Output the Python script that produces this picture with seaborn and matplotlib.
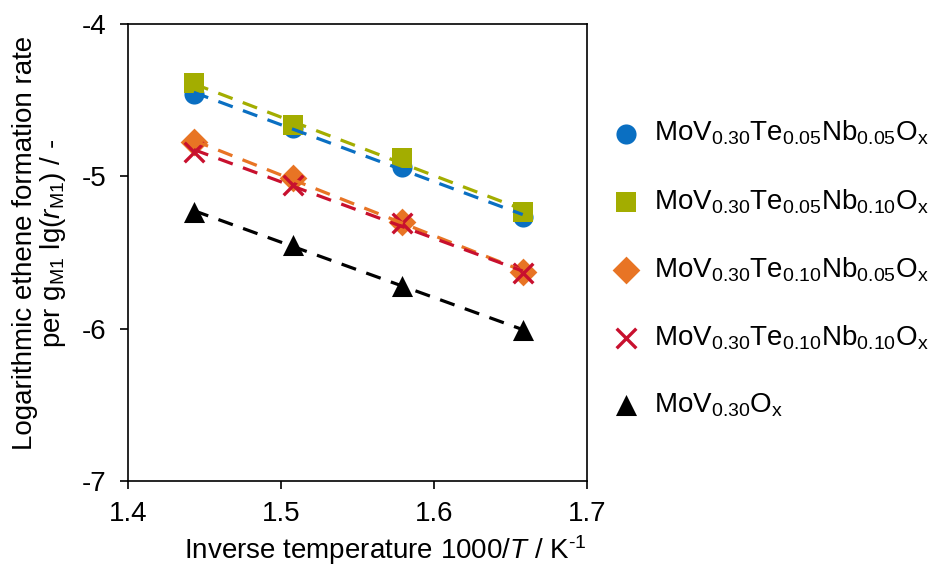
import numpy as np
import pandas as pd
import matplotlib
matplotlib.use("Agg")
import matplotlib.pyplot as plt
import seaborn as sns

# ---- data ----
inv_temp = [1.443, 1.508, 1.579, 1.658]
series_labels = [
    r"MoV$_{0.30}$Te$_{0.05}$Nb$_{0.05}$O$_\mathrm{x}$",
    r"MoV$_{0.30}$Te$_{0.05}$Nb$_{0.10}$O$_\mathrm{x}$",
    r"MoV$_{0.30}$Te$_{0.10}$Nb$_{0.05}$O$_\mathrm{x}$",
    r"MoV$_{0.30}$Te$_{0.10}$Nb$_{0.10}$O$_\mathrm{x}$",
    r"MoV$_{0.30}$O$_\mathrm{x}$",
]
rate_te05_nb05 = [-4.46, -4.685, -4.937, -5.265]
rate_te05_nb10 = [-4.39, -4.663, -4.882, -5.232]
rate_te10_nb05 = [-4.773, -5.013, -5.302, -5.626]
rate_te10_nb10 = [-4.838, -5.057, -5.309, -5.637]
rate_mov = [-5.232, -5.451, -5.720, -6.009]
x_ticks = [1.4, 1.5, 1.6, 1.7]
y_ticks = [-7, -6, -5, -4]

all_rates = [rate_te05_nb05, rate_te05_nb10, rate_te10_nb05, rate_te10_nb10, rate_mov]
colors = ["#0A6FC2", "#A3AD00", "#E87424", "#C8102E", "#000000"]
markers = ["o", "s", "D", "x", "^"]
sizes = [210, 210, 200, 200, 230]

frames = []
for lab, r in zip(series_labels, all_rates):
    frames.append(pd.DataFrame({"inv_temp": inv_temp, "rate": r, "sample": lab}))
df = pd.concat(frames, ignore_index=True)

sns.set_style("ticks")
plt.rcParams["font.family"] = ["Liberation Sans", "DejaVu Sans"]
plt.rcParams["mathtext.fontset"] = "custom"
plt.rcParams["mathtext.rm"] = "Liberation Sans"
plt.rcParams["mathtext.it"] = "Liberation Sans:italic"
plt.rcParams["mathtext.bf"] = "Liberation Sans:bold"
plt.rcParams["axes.unicode_minus"] = False
plt.rcParams["text.color"] = "black"
plt.rcParams["axes.labelcolor"] = "black"

FS = 20

fig = plt.figure(figsize=(9.34, 5.68), dpi=100)
ax = fig.add_axes([128 / 934, 1 - 481 / 568, (587 - 128) / 934, (481 - 24) / 568])

for lab, c, m, s in zip(series_labels, colors, markers, sizes):
    sub = df[df["sample"] == lab]
    kw = dict(linewidth=2.4) if m == "x" else dict(linewidth=0)
    sns.scatterplot(data=sub, x="inv_temp", y="rate", color=c, marker=m, s=s,
                    ax=ax, label=lab, zorder=2, **kw)

for lab, c in zip(series_labels, colors):
    sub = df[df["sample"] == lab]
    sns.regplot(data=sub, x="inv_temp", y="rate", scatter=False, ci=None,
                truncate=True, color=c, ax=ax,
                line_kws=dict(lw=2.3, linestyle=(0, (4.8, 3.4)), zorder=3))

ax.set_xlim(1.4, 1.7)
ax.set_ylim(-7, -4)
ax.set_xticks(x_ticks)
ax.set_yticks(y_ticks)
ax.set_xticklabels([f"{v:.1f}" for v in x_ticks])
ax.set_yticklabels([str(v) for v in y_ticks])
ax.tick_params(direction="out", length=5.5, width=1.2, labelsize=FS, colors="black")
ax.tick_params(axis="x", pad=9)
ax.tick_params(axis="y", pad=10)
for sp in ax.spines.values():
    sp.set_linewidth(1.2)
    sp.set_color("black")

ax.set_xlabel(r"Inverse temperature 1000/$\mathit{T}$ / K$^{\text{-1}}$", fontsize=FS)
ax.xaxis.set_label_coords((385 - 128) / 459, -0.114)
ax.set_ylabel("Logarithmic ethene formation rate\n" + r"per g$_\mathrm{M1}$ lg($\mathit{r}_\mathrm{M1}$) / -",
              fontsize=FS, linespacing=1.0)
ax.yaxis.set_label_coords(-0.13, 0.52)

handles, labels = ax.get_legend_handles_labels()
ax.legend(handles[:5], labels[:5], loc="center left", bbox_to_anchor=(612 / 934, 1 - 269 / 568),
          bbox_transform=fig.transFigure, frameon=False, fontsize=FS,
          labelspacing=1.43, handletextpad=0.5, borderpad=0, borderaxespad=0,
          handlelength=1.0)

fig.savefig("out.png", dpi=100)
